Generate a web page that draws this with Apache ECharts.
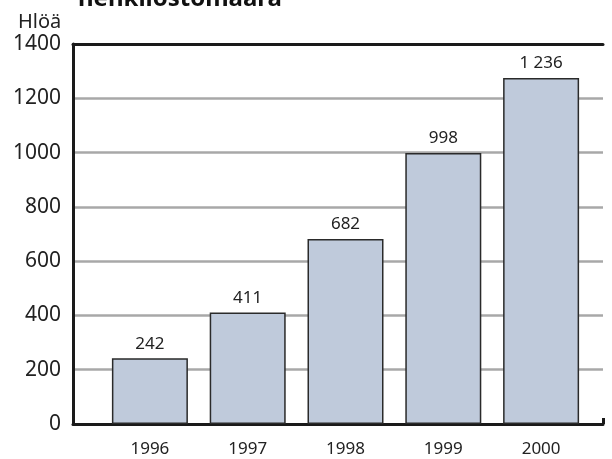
<!DOCTYPE html>
<html>
<head>
<meta charset="utf-8">
<script src="https://cdn.jsdelivr.net/npm/echarts@6/dist/echarts.min.js"></script>
<style>
  html, body { margin: 0; padding: 0; background: #fff; }
  #chart { width: 612px; height: 459px; }
</style>
</head>
<body>
<div id="chart"></div>
<script>
// vuodet ja henkilöstömäärä
var years = ["1996", "1997", "1998", "1999", "2000"];
// pylväiden korkeudet kuvasta luettuna (viimeinen on piirretty hieman merkintäänsä korkeammaksi)
var barHeights = [242, 411, 682, 998, 1275];
// pylväiden päällä olevat merkinnät
var valueLabels = ["242", "411", "682", "998", "1 236"];
var yTicks = [0, 200, 400, 600, 800, 1000, 1200, 1400];

var font = "Noto Sans";
var chart = echarts.init(document.getElementById("chart"));

var option = {
  animation: false,
  textStyle: { fontFamily: font },
  title: [
    {
      text: "henkilöstömäärä",
      left: 73,
      top: -18,
      textStyle: { fontSize: 24, fontWeight: "bold", color: "#111", fontFamily: font }
    },
    {
      text: "Hlöä",
      left: 13,
      top: 7,
      textStyle: { fontSize: 20, fontWeight: "normal", color: "#222", fontFamily: font }
    }
  ],
  grid: [
    // kehys ja apuviivat
    { left: 73, right: 9, top: 44, bottom: 35 },
    // pylväät
    { left: 101, right: 22, top: 44, bottom: 35 }
  ],
  xAxis: [
    {
      gridIndex: 0, type: "value", min: 0, max: 1, interval: 1,
      position: "bottom",
      axisLine: { show: true, lineStyle: { color: "#1a1a1a", width: 3 } },
      axisTick: { show: true, inside: true, length: 6, lineStyle: { color: "#1a1a1a", width: 3 } },
      axisLabel: { show: false },
      splitLine: { show: false }
    },
    {
      gridIndex: 0, type: "value", min: 0, max: 1,
      position: "top",
      axisLine: { show: true, lineStyle: { color: "#1a1a1a", width: 3 } },
      axisTick: { show: false },
      axisLabel: { show: false },
      splitLine: { show: false }
    },
    {
      gridIndex: 1, type: "category", data: years,
      axisLine: { show: false },
      axisTick: { show: false },
      axisLabel: { fontSize: 17, color: "#222", margin: 17, fontFamily: font }
    }
  ],
  yAxis: [
    {
      gridIndex: 0, type: "value", min: 0, max: 1400, interval: 200,
      axisLine: { show: true, lineStyle: { color: "#1a1a1a", width: 3 } },
      axisTick: { show: false },
      axisLabel: {
        fontSize: 21, color: "#222", margin: 12, fontFamily: font,
        formatter: function (v) { return String(v); }
      },
      splitLine: { show: true, lineStyle: { color: "#a8a8a8", width: 2.5 } }
    },
    {
      gridIndex: 1, type: "value", min: 0, max: 1400, interval: 200,
      show: false,
      splitLine: { show: false }
    }
  ],
  series: [
    {
      type: "bar",
      xAxisIndex: 2,
      yAxisIndex: 1,
      data: barHeights,
      barWidth: 76,
      itemStyle: { color: "#bfcadb", borderColor: "#2a2a2a", borderWidth: 1.5 },
      label: {
        show: true,
        position: "top",
        distance: 6,
        fontSize: 17,
        color: "#222",
        fontFamily: font,
        formatter: function (p) { return valueLabels[p.dataIndex]; }
      }
    }
  ]
};

chart.setOption(option);
</script>
</body>
</html>
